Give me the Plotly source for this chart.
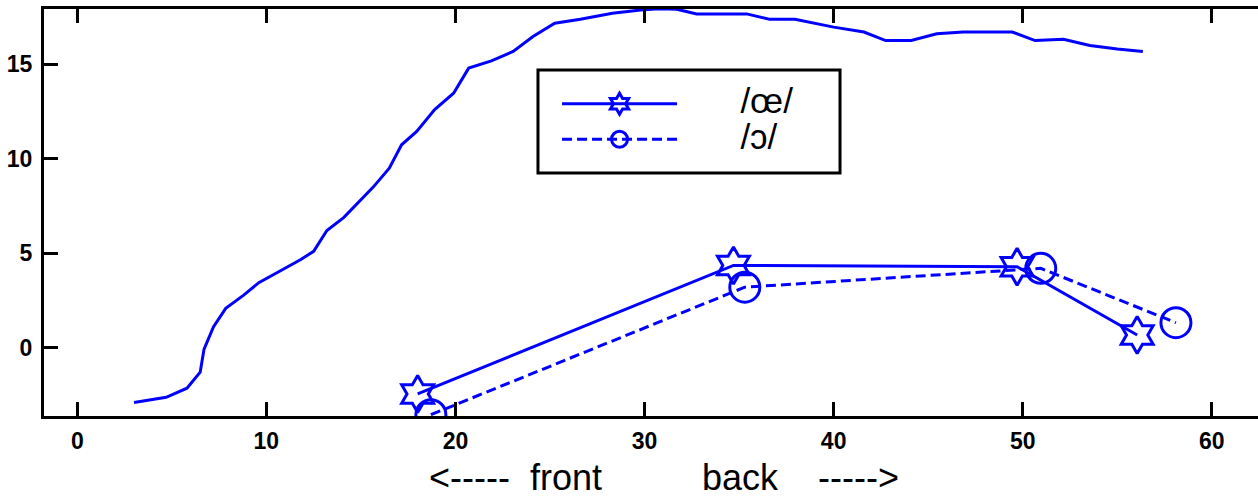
import plotly.graph_objects as go

# Envelope curve
env_x = [3.0, 4.7, 5.8, 6.5, 6.7, 7.2, 7.85, 8.8, 9.6, 10.6, 11.8, 12.5, 13.2, 14.1, 14.9,
         15.65, 16.5, 17.15, 17.95, 18.9, 19.9, 20.7, 21.9, 23.05, 24.1, 25.25, 26.6, 28.3,
         29.8, 30.8, 31.7, 32.75, 35.4, 36.6, 37.95, 40.0, 41.6, 42.75, 44.1, 45.45, 46.85,
         49.45, 50.65, 52.15, 53.55, 55.0, 56.35]
env_y = [-2.9, -2.63, -2.15, -1.3, -0.1, 1.1, 2.08, 2.78, 3.44, 3.97, 4.65, 5.1, 6.2, 6.9,
         7.75, 8.5, 9.5, 10.74, 11.45, 12.6, 13.47, 14.8, 15.18, 15.68, 16.47, 17.18, 17.39,
         17.7, 17.88, 17.94, 17.92, 17.67, 17.67, 17.39, 17.39, 16.97, 16.71, 16.26, 16.26,
         16.62, 16.71, 16.71, 16.26, 16.33, 16.0, 15.81, 15.68]

# /œ/ series (stars)
oe_x = [18.0, 34.7, 49.7, 56.05]
oe_y = [-2.45, 4.35, 4.28, 0.67]

# /ɔ/ series (circles)
o_x = [18.7, 35.3, 50.95, 58.1]
o_y = [-3.55, 3.2, 4.2, 1.32]

xticks = [0, 10, 20, 30, 40, 50, 60]
yticks = [0, 5, 10, 15]

BLUE = "#0000FF"
sp = "\u00a0"
FONT = "Liberation Sans, Arial, Helvetica"
XLABEL = "<-----" + sp * 2 + "front" + sp * 10 + "back" + sp * 4 + "----->"


def legend_name(label):
    return "<span style='font-size:35px'>" + sp * 6 + label + sp * 4 + "</span>"


fig = go.Figure()
fig.add_trace(go.Scatter(x=env_x, y=env_y, mode="lines",
                         line=dict(color=BLUE, width=3), showlegend=False))
fig.add_trace(go.Scatter(x=oe_x, y=oe_y, mode="lines+markers", name=legend_name("/œ/"),
                         line=dict(color=BLUE, width=3),
                         marker=dict(symbol="hexagram-open", size=28, color=BLUE,
                                     line=dict(width=3, color=BLUE))))
fig.add_trace(go.Scatter(x=o_x, y=o_y, mode="lines+markers", name=legend_name("/ɔ/"),
                         line=dict(color=BLUE, width=3, dash="10px,5px"),
                         marker=dict(symbol="circle-open", size=30, color=BLUE,
                                     line=dict(width=3, color=BLUE))))

axis_common = dict(showline=True, linecolor="black", linewidth=3, ticks="inside",
                   ticklen=14, tickwidth=3, tickcolor="black", showgrid=False,
                   zeroline=False, automargin=False,
                   tickfont=dict(family=FONT, size=23, color="black", weight="bold"))

fig.update_xaxes(range=[-1.76, 62.44], tickvals=xticks, mirror="ticks",
                 ticklabelstandoff=2, **axis_common)
fig.update_yaxes(range=[-3.62, 17.93], tickvals=yticks, mirror=False,
                 ticklabelstandoff=4, **axis_common)

# x-axis label (placed as annotation so it can sit off-centre like the original)
fig.add_annotation(text=XLABEL, xref="paper", yref="paper", x=0.5107, y=-0.1523,
                   xanchor="center", yanchor="middle", showarrow=False,
                   font=dict(family=FONT, size=36, color="black"))

# legend frame
fig.add_shape(type="rect", xref="paper", yref="paper",
              x0=0.4069, x1=0.6557, y0=0.5971, y1=0.8501,
              line=dict(color="black", width=3), fillcolor="white", layer="above")

fig.update_layout(
    width=1258, height=498,
    margin=dict(l=44, r=0, t=9, b=82),
    plot_bgcolor="white", paper_bgcolor="white",
    legend=dict(x=0.4226, y=0.7236, xanchor="left", yanchor="middle",
                bgcolor="rgba(0,0,0,0)", borderwidth=0,
                font=dict(family=FONT, size=25, color="black"),
                itemwidth=115, tracegroupgap=0),
)

fig.write_html("out.html", config={"displayModeBar": False},
               post_script="document.body.style.margin='0';")
